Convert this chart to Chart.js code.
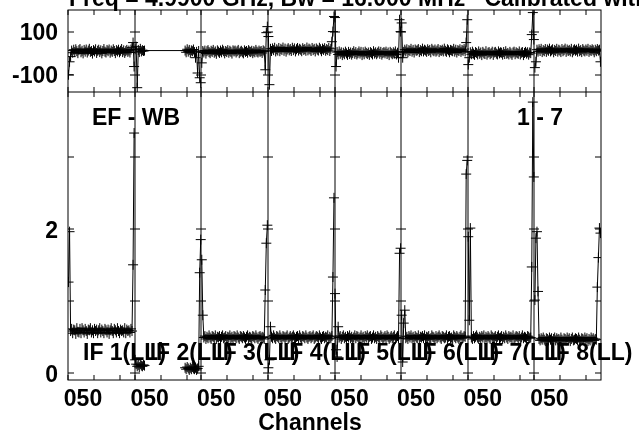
<!DOCTYPE html>
<html>
<head>
<meta charset="utf-8">
<script src="https://cdn.jsdelivr.net/npm/chart.js@4.4.1/dist/chart.umd.min.js"></script>
<style>
  html, body { margin: 0; padding: 0; background: #fff; }
  #wrap { width: 639px; height: 435px; }
</style>
</head>
<body>
<div id="wrap"><canvas id="possm" width="639" height="435"></canvas></div>
<script>
// 8 IFs of 64 channels each, laid side by side on one channel axis
var nChan = 64;
var ifLabels = ["IF 1(LL)", "IF 2(LL)", "IF 3(LL)", "IF 4(LL)", "IF 5(LL)", "IF 6(LL)", "IF 7(LL)", "IF 8(LL)"];
var xTickText = "050";
var phTicks = [-100, 100];
var ampTicks = [0, 2];
var headerText = "Freq = 4.9900 GHz, Bw = 16.000 MHz   Calibrated with CL 2";
var baselineText = "EF - WB";
var timeText = "1 - 7";

// amplitude (Jy) per channel
var amp1 = [1.26,1.96,0.58,0.61,0.55,0.60,0.59,0.54,
            0.62,0.57,0.56,0.61,0.55,0.62,0.59,0.56,
            0.61,0.58,0.54,0.60,0.59,0.62,0.56,0.59,
            0.55,0.61,0.58,0.60,0.55,0.59,0.62,0.56,
            0.60,0.58,0.55,0.61,0.59,0.56,0.60,0.54,
            0.59,0.62,0.58,0.55,0.61,0.59,0.56,0.62,
            0.58,0.55,0.60,0.58,0.59,0.56,0.62,0.55,
            0.60,0.58,0.59,0.56,0.61,0.58,1.50,3.33];
var amp2 = [0.18,0.12,0.09,0.11,0.08,0.12,0.10,0.09,
            0.11,0.10,null,null,null,null,null,null,
            null,null,null,null,null,null,null,null,
            null,null,null,null,null,null,null,null,
            null,null,null,null,null,null,null,null,
            null,null,null,null,null,null,null,null,
            0.07,0.05,0.08,0.06,0.04,0.07,0.05,0.08,
            0.06,0.05,0.07,0.04,0.06,0.09,1.39,1.85];
var amp3 = [1.57,0.80,0.49,0.51,0.47,0.50,0.48,0.52,
            0.49,0.47,0.51,0.50,0.48,0.52,0.47,0.50,
            0.49,0.51,0.47,0.50,0.52,0.48,0.49,0.51,
            0.47,0.50,0.49,0.52,0.48,0.50,0.47,0.51,
            0.50,0.48,0.52,0.49,0.47,0.51,0.50,0.48,
            0.51,0.49,0.47,0.50,0.52,0.48,0.50,0.49,
            0.47,0.51,0.50,0.48,0.52,0.49,0.47,0.50,
            0.51,0.48,0.50,0.49,0.47,1.15,1.80,2.05];
var amp4 = [0.07,0.18,0.64,0.50,0.48,0.52,0.49,0.47,
            0.51,0.50,0.48,0.52,0.49,0.47,0.51,0.50,
            0.48,0.50,0.52,0.47,0.49,0.51,0.48,0.50,
            0.52,0.49,0.47,0.50,0.51,0.48,0.52,0.49,
            0.47,0.51,0.50,0.48,0.52,0.49,0.47,0.50,
            0.51,0.48,0.50,0.52,0.47,0.49,0.51,0.50,
            0.48,0.52,0.49,0.47,0.50,0.51,0.48,0.50,
            0.49,0.52,0.47,0.50,0.48,0.51,1.33,2.43];
var amp5 = [1.10,0.32,0.22,0.64,0.49,0.51,0.47,0.50,
            0.52,0.48,0.50,0.47,0.51,0.49,0.52,0.48,
            0.50,0.47,0.49,0.52,0.48,0.51,0.50,0.47,
            0.49,0.52,0.48,0.50,0.47,0.51,0.49,0.52,
            0.48,0.50,0.51,0.47,0.49,0.52,0.48,0.50,
            0.47,0.51,0.49,0.48,0.52,0.50,0.47,0.49,
            0.51,0.48,0.52,0.50,0.47,0.49,0.51,0.48,
            0.50,0.52,0.47,0.49,0.51,0.48,1.66,1.73];
var amp6 = [0.80,0.15,0.69,0.87,0.48,0.50,0.47,0.51,
            0.49,0.52,0.48,0.50,0.47,0.51,0.49,0.48,
            0.52,0.47,0.50,0.49,0.51,0.48,0.52,0.47,
            0.50,0.49,0.51,0.47,0.48,0.52,0.50,0.49,
            0.47,0.51,0.48,0.50,0.52,0.49,0.47,0.51,
            0.50,0.48,0.49,0.52,0.47,0.50,0.51,0.48,
            0.49,0.47,0.52,0.50,0.48,0.51,0.49,0.47,
            0.50,0.52,0.48,0.49,0.51,0.50,2.76,2.95];
var amp7 = [1.89,0.73,2.01,0.49,0.47,0.51,0.48,0.50,
            0.52,0.49,0.47,0.50,0.48,0.51,0.49,0.52,
            0.47,0.50,0.48,0.51,0.49,0.47,0.52,0.50,
            0.48,0.49,0.51,0.47,0.50,0.52,0.48,0.49,
            0.51,0.47,0.50,0.48,0.52,0.49,0.47,0.51,
            0.49,0.50,0.48,0.52,0.47,0.49,0.51,0.50,
            0.48,0.51,0.47,0.49,0.52,0.48,0.50,0.49,
            0.47,0.51,0.50,0.48,0.49,1.47,3.76,2.72];
var amp8 = [1.01,1.87,1.96,1.13,0.47,0.45,0.48,0.46,
            0.49,0.46,0.44,0.48,0.47,0.45,0.49,0.46,
            0.48,0.44,0.47,0.49,0.45,0.48,0.46,0.47,
            0.45,0.49,0.46,0.44,0.48,0.47,0.45,0.49,
            0.46,0.48,0.44,0.47,0.49,0.45,0.46,0.48,
            0.47,0.45,0.49,0.46,0.44,0.48,0.47,0.45,
            0.49,0.46,0.48,0.44,0.47,0.45,0.49,0.46,
            0.48,0.45,0.47,0.46,1.19,1.60,2.01,1.94];

// phase (degrees) per channel
var ph1 = [-100,-40,-16,12,2,16,5,18,
           9,0,14,19,4,11,-1,15,
           7,17,3,12,20,6,10,-2,
           14,8,18,1,11,16,5,13,
           -1,10,19,7,3,15,9,17,
           2,12,6,18,10,0,14,8,
           16,4,11,19,5,13,1,9,
           15,6,12,3,17,25,49,-62];
var ph2 = [18,30,-160,15,5,20,8,14,
           10,12,null,null,null,null,null,null,
           null,null,null,null,null,null,null,null,
           null,null,null,null,null,null,null,null,
           null,null,null,null,null,null,null,null,
           null,null,null,null,null,null,null,null,
           12,4,18,7,15,2,13,9,
           17,5,-21,6,-92,10,-114,-137];
var ph3 = [-45,10,3,12,-2,9,14,5,
           0,11,6,15,2,8,-3,13,
           7,1,12,4,16,9,-1,10,
           5,14,2,11,6,-2,13,8,
           12,3,9,15,0,7,11,4,
           -1,13,6,10,2,14,8,5,
           11,0,9,4,15,7,3,12,
           6,10,1,13,8,-77,95,123];
var ph4 = [77,-146,20,10,22,14,25,8,
           18,12,24,9,20,15,26,11,
           21,7,17,23,13,19,10,25,
           14,22,8,18,24,12,20,16,
           9,23,15,19,11,26,13,21,
           17,10,24,14,20,8,22,16,
           12,25,18,9,21,15,23,11,
           19,14,24,10,20,53,100,170];
var ph5 = [165,-62,5,-6,8,-3,4,-9,
           2,-5,7,-1,-8,6,-4,3,
           -7,1,9,-3,5,-6,0,8,
           -2,6,-9,4,-5,7,1,-4,
           3,-8,5,0,-6,9,-2,4,
           -5,2,8,-3,6,-7,1,5,
           -1,7,-4,3,-9,6,0,-5,
           4,-2,8,-6,2,-21,155,100];
var ph6 = [140,-21,6,16,8,18,4,14,
           10,20,7,15,3,17,11,13,
           19,5,14,9,21,8,16,12,
           6,18,10,15,4,20,13,9,
           17,7,12,19,5,14,10,16,
           8,21,11,6,18,13,4,15,
           12,9,20,7,16,3,14,10,
           18,6,15,11,19,8,49,155];
var ph7 = [-53,-21,4,-5,7,-2,-8,5,
           1,-6,8,-3,3,-9,6,-1,
           -4,9,-7,2,5,-5,0,7,
           -8,3,6,-2,-6,8,-1,4,
           2,-7,5,-4,9,-3,1,-6,
           6,-1,-8,3,7,-5,4,0,
           -3,8,-6,2,5,-9,1,6,
           -2,4,-7,3,0,86,188,63];
var ph8 = [-67,-40,16,7,18,10,20,5,
           14,9,19,6,17,11,21,8,
           13,18,4,15,10,20,7,16,
           12,5,19,9,14,21,6,17,
           10,15,8,20,4,13,18,11,
           16,7,21,9,14,5,19,12,
           8,17,11,20,6,15,10,18,
           13,4,16,9,19,12,16,-40];

var ampAll = [amp1, amp2, amp3, amp4, amp5, amp6, amp7, amp8];
var phAll = [ph1, ph2, ph3, ph4, ph5, ph6, ph7, ph8];

Chart.defaults.font.family = "'Liberation Sans', Arial, sans-serif";
Chart.defaults.color = '#000';

function toPoints(arr, k) {
  return arr.map(function (v, i) { return { x: k * nChan + i + 0.5, y: v }; });
}

function ifDataset(arr, k, axis, joinGaps) {
  return {
    data: toPoints(arr, k),
    yAxisID: axis,
    borderColor: '#000',
    borderWidth: 1,
    pointStyle: 'cross',
    pointRadius: 5,
    pointBorderColor: '#000',
    pointBorderWidth: 1,
    spanGaps: joinGaps,
    fill: false,
    tension: 0
  };
}

var datasets = [];
for (var k = 0; k < ifLabels.length; k++) {
  datasets.push(ifDataset(phAll[k], k, 'yPh', true));
  datasets.push(ifDataset(ampAll[k], k, 'yAmp', false));
}

var bold23 = { size: 23, weight: 'bold' };

// frame, inner ticks, IF separators and the labels AIPS puts on the plot
var possmDecor = {
  id: 'possmDecor',
  afterDatasetsDraw: function (chart) {
    var ctx = chart.ctx;
    var xs = chart.scales.x, yp = chart.scales.yPh, ya = chart.scales.yAmp;
    var L = chart.chartArea.left, R = chart.chartArea.right;
    var T = yp.top, M = yp.bottom, B = ya.bottom;
    function seg(x1, y1, x2, y2) { ctx.beginPath(); ctx.moveTo(x1, y1); ctx.lineTo(x2, y2); ctx.stroke(); }

    ctx.save();
    ctx.strokeStyle = '#000';
    ctx.lineWidth = 1;
    ctx.strokeRect(L, T, R - L, B - T);
    seg(L, M, R, M);

    var seps = [];
    for (var k = 1; k < ifLabels.length; k++) {
      var px = Math.round(xs.getPixelForValue(k * nChan));
      seps.push(px);
      seg(px, T, px, B);
    }

    // channel ticks every 25 channels in each IF
    for (var k2 = 0; k2 < ifLabels.length; k2++) {
      [0, 25, 50].forEach(function (c) {
        var tx = Math.round(xs.getPixelForValue(k2 * nChan + c));
        seg(tx, T, tx, T + 5);
        seg(tx, M - 5, tx, M + 5);
        seg(tx, B - 5, tx, B);
      });
    }

    // value ticks on borders and on IF separators
    function yTicks(scale, vals) {
      vals.forEach(function (v) {
        var ty = Math.round(scale.getPixelForValue(v));
        seg(L, ty, L + 6, ty);
        seg(R - 6, ty, R, ty);
        seps.forEach(function (sx) { seg(sx - 5, ty, sx + 5, ty); });
      });
    }
    yTicks(yp, [-100, 100]);
    yTicks(ya, [0, 1, 2, 3]);

    ctx.fillStyle = '#000';
    ctx.font = "bold 23px 'Liberation Sans', Arial, sans-serif";
    ctx.textBaseline = 'alphabetic';
    ctx.textAlign = 'left';
    ctx.fillText(headerText, 69, 6);
    ctx.fillText(baselineText, 92, 125);
    ctx.fillText(timeText, 517, 125);
    for (var k3 = 0; k3 < ifLabels.length; k3++) {
      var lx = xs.getPixelForValue(k3 * nChan) + 15;
      ctx.fillText(ifLabels[k3], lx, 360);
    }
    ctx.textAlign = 'center';
    ctx.fillText('Channels', 310, 430);
    ctx.restore();
  }
};

new Chart(document.getElementById('possm'), {
  type: 'line',
  data: { datasets: datasets },
  options: {
    responsive: false,
    animation: false,
    devicePixelRatio: 1,
    layout: { padding: { top: 10, right: 38, left: 0, bottom: 0 } },
    plugins: { legend: { display: false }, tooltip: { enabled: false }, title: { display: false } },
    scales: {
      x: {
        type: 'linear', position: 'bottom', min: 0, max: nChan * ifLabels.length,
        grid: { display: false, drawTicks: false }, border: { display: false },
        afterBuildTicks: function (s) {
          s.ticks = ifLabels.map(function (l, k) { return { value: k * nChan + 14.4 }; });
        },
        ticks: { autoSkip: false, maxRotation: 0, padding: 6, font: bold23,
                 callback: function () { return xTickText; } },
        afterFit: function (s) { s.height = 55; s.paddingLeft = 0; s.paddingRight = 0; }
      },
      // left boxes are stacked in reverse order, so the amplitude panel is listed first
      yAmp: {
        type: 'linear', position: 'left', stack: 'panels', stackWeight: 288,
        min: -0.1, max: 3.9,
        grid: { display: false, drawTicks: false }, border: { display: false },
        afterBuildTicks: function (s) { s.ticks = ampTicks.map(function (v) { return { value: v }; }); },
        ticks: { padding: 10, labelOffset: 3, font: bold23, callback: function (v) { return String(v); } },
        afterFit: function (s) { s.width = 68; s.paddingTop = 0; s.paddingBottom = 0; }
      },
      yPh: {
        type: 'linear', position: 'left', stack: 'panels', stackWeight: 82,
        min: -180, max: 200,
        grid: { display: false, drawTicks: false }, border: { display: false },
        afterBuildTicks: function (s) { s.ticks = phTicks.map(function (v) { return { value: v }; }); },
        ticks: { padding: 10, labelOffset: 2, font: bold23, callback: function (v) { return String(v); } },
        afterFit: function (s) { s.width = 68; s.paddingTop = 0; s.paddingBottom = 0; }
      }
    }
  },
  plugins: [possmDecor]
});
</script>
</body>
</html>
